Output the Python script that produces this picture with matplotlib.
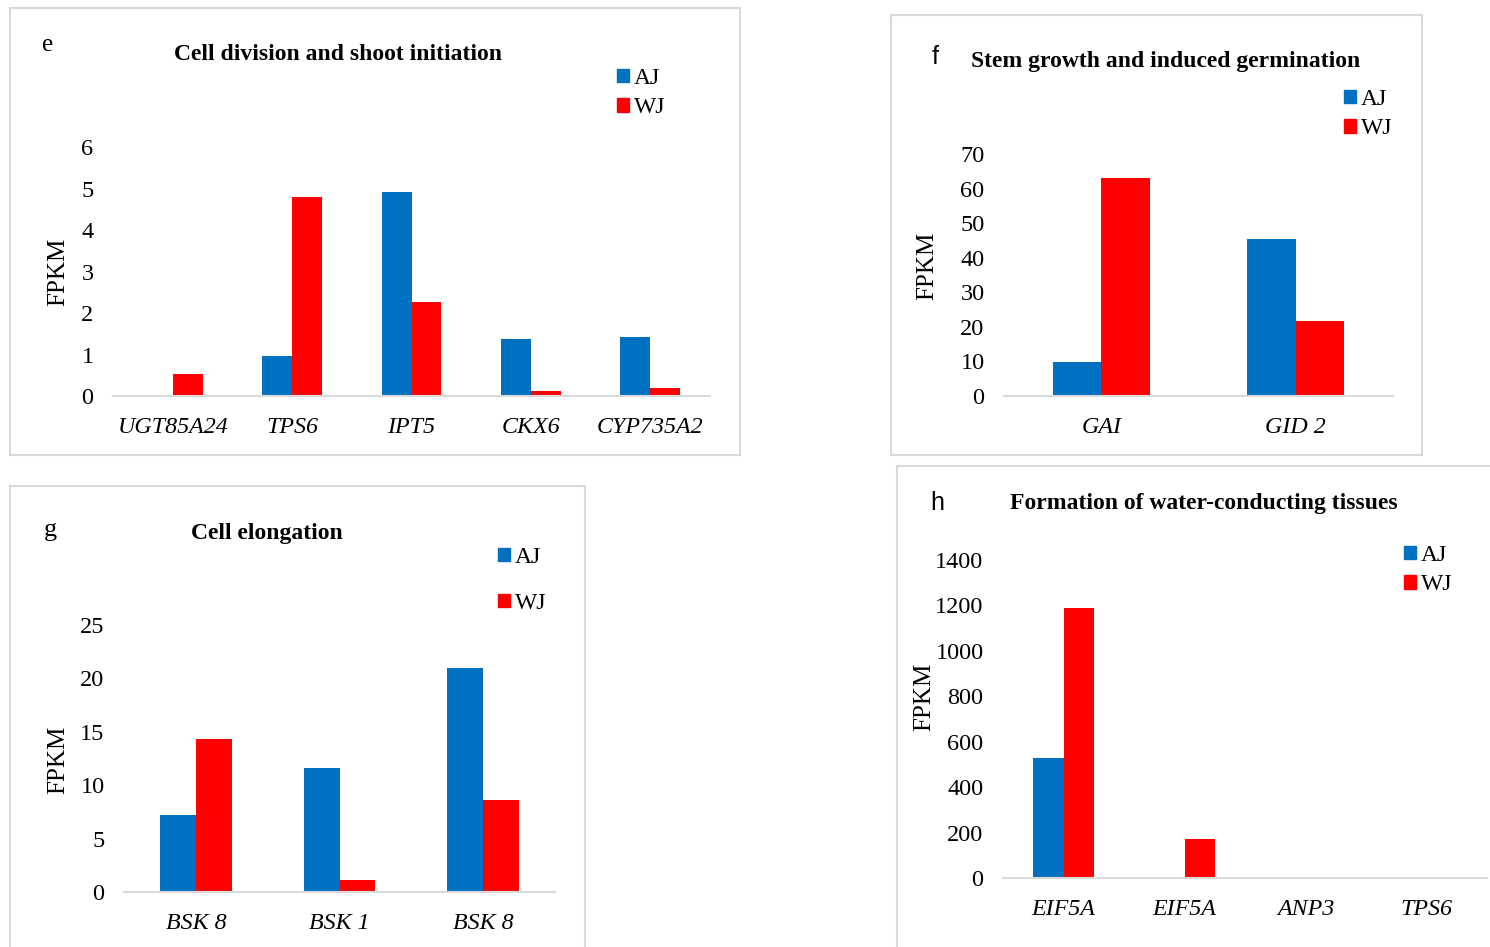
import matplotlib
matplotlib.use("Agg")
import matplotlib.pyplot as plt
import numpy as np
from matplotlib.patches import Rectangle, Patch

plt.rcParams['font.family'] = ['Liberation Serif', 'DejaVu Serif']

# expression values (FPKM) for each panel
genes_e = ['UGT85A24', 'TPS6', 'IPT5', 'CKX6', 'CYP735A2']
aj_e = [0.02, 0.97, 4.92, 1.38, 1.42]
wj_e = [0.52, 4.80, 2.27, 0.12, 0.19]

genes_f = ['GAI', 'GID 2']
aj_f = [9.8, 45.5]
wj_f = [63.1, 21.7]

genes_g = ['BSK 8', 'BSK 1', 'BSK 8']
aj_g = [7.2, 11.6, 21.0]
wj_g = [14.3, 1.1, 8.6]

genes_h = ['EIF5A', 'EIF5A', 'ANP3', 'TPS6']
aj_h = [528, 2, 1, 1]
wj_h = [1188, 172, 3, 3]

BLUE = '#0070C0'
RED = '#FF0000'
GRID = '#D9D9D9'

W, H = 1490, 947
fig = plt.figure(figsize=(W / 100, H / 100), dpi=100)


def fx(x):
    return x / W


def fy(y):
    return 1 - y / H


def frame(x0, y0, x1, y1):
    fig.patches.append(Rectangle((fx(x0), fy(y1)), fx(x1) - fx(x0), fy(y0) - fy(y1),
                                 transform=fig.transFigure, fill=False,
                                 edgecolor=GRID, linewidth=1.5))


def panel(left, right, zero, top, genes, aj, wj, ymax, yticks):
    ax = fig.add_axes([fx(left), fy(zero), fx(right) - fx(left), fy(top) - fy(zero)])
    x = np.arange(len(genes))
    w = 0.25
    ax.bar(x - w / 2, aj, w, color=BLUE, label='AJ')
    ax.bar(x + w / 2, wj, w, color=RED, label='WJ')
    ax.set_xlim(-0.5, len(genes) - 0.5)
    ax.set_ylim(0, ymax)
    ax.set_yticks(yticks)
    ax.set_xticks(x)
    ax.set_xticklabels(genes, fontstyle='italic', fontsize=17.3)
    ax.tick_params(axis='y', length=0, pad=14, labelsize=17.5)
    ax.tick_params(axis='x', length=0, pad=15)
    for s in ['top', 'right', 'left']:
        ax.spines[s].set_visible(False)
    ax.spines['bottom'].set_color(GRID)
    ax.spines['bottom'].set_linewidth(1.5)
    ax.set_facecolor('none')
    return ax


def legend(ax, x, y, spacing):
    handles = [Patch(color=BLUE), Patch(color=RED)]
    ax.legend(handles, ['AJ', 'WJ'], loc='upper left', bbox_to_anchor=(fx(x), fy(y)),
              bbox_transform=fig.transFigure, frameon=False, fontsize=17,
              handlelength=0.5, handleheight=0.5, handletextpad=0.2,
              labelspacing=spacing, borderpad=0, borderaxespad=0)


# borders around each panel
frame(10, 8, 740, 455)
frame(891, 15, 1422, 455)
frame(10, 486, 585, 960)
frame(897, 466, 1500, 960)

# e
ax = panel(113, 710, 396, 147, genes_e, aj_e, wj_e, 6, range(0, 7))
legend(ax, 617, 68, 0.35)
fig.text(fx(48), fy(45), 'e', fontsize=18, ha='center', va='center')
fig.text(fx(338), fy(55), 'Cell division and shoot initiation', fontsize=17,
         fontweight='bold', ha='center', va='center')
fig.text(fx(58), fy(272), 'FPKM', fontsize=18, rotation=90, ha='center', va='center')

# f
ax = panel(1004, 1393, 396, 154, genes_f, aj_f, wj_f, 70, range(0, 71, 10))
legend(ax, 1344, 89, 0.35)
fig.text(fx(935), fy(57), 'f', fontsize=18, ha='center', va='center', family='Liberation Sans')
fig.text(fx(1166), fy(61), 'Stem growth and induced germination', fontsize=17,
         fontweight='bold', ha='center', va='center')
fig.text(fx(927), fy(266), 'FPKM', fontsize=18, rotation=90, ha='center', va='center')

# g
ax = panel(124, 555, 892, 625, genes_g, aj_g, wj_g, 25, range(0, 26, 5))
legend(ax, 498, 547, 1.05)
fig.text(fx(50), fy(530), 'g', fontsize=19, ha='center', va='center')
fig.text(fx(267), fy(533), 'Cell elongation', fontsize=17,
         fontweight='bold', ha='center', va='center')
fig.text(fx(58), fy(760), 'FPKM', fontsize=18, rotation=90, ha='center', va='center')

# h
ax = panel(1003, 1487, 878, 560, genes_h, aj_h, wj_h, 1400, range(0, 1401, 200))
legend(ax, 1404, 545, 0.35)
fig.text(fx(937), fy(503), 'h', fontsize=18, ha='center', va='center', family='Liberation Sans')
fig.text(fx(1204), fy(503), 'Formation of water-conducting tissues', fontsize=17,
         fontweight='bold', ha='center', va='center')
fig.text(fx(924), fy(697), 'FPKM', fontsize=18, rotation=90, ha='center', va='center')

fig.savefig('out.png', dpi=100)
